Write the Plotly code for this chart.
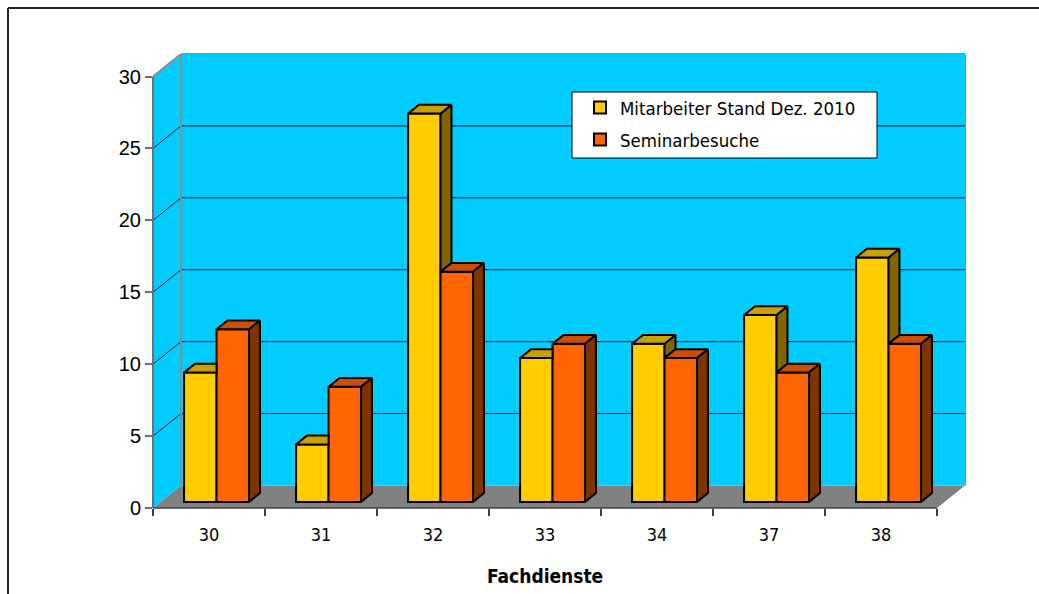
import plotly.graph_objects as go

# Fachdienste: staff count vs. seminar visits
categories = ["30", "31", "32", "33", "34", "37", "38"]
mitarbeiter = [9, 4, 27, 10, 11, 13, 17]
seminarbesuche = [12, 8, 16, 11, 10, 9, 11]
y_tick_values = [0, 5, 10, 15, 20, 25, 30]
series_names = ["Mitarbeiter Stand Dez. 2010", "Seminarbesuche"]
x_title = "Fachdienste"

# pseudo-3D geometry (in axis units)
DX, DY = 0.25, 1.57      # depth offset of the back wall
D0, DD = 0.27, 0.39      # bar depth start / bar depth as fraction of the box depth
W = 0.29                 # bar width (category units)
YMAX = 30

YEL, YEL_TOP, YEL_SIDE = "#FFCC00", "#C8A000", "#806600"
ORA, ORA_TOP, ORA_SIDE = "#FF6600", "#C85000", "#803300"
WALL, FLOOR = "#00CCFF", "#808080"
EDGE = "#8C8C8C"

# page layout in pixels
W_PX, H_PX = 1039, 594
L, R, T, B = 153, 74, 54, 86
PW, PH = W_PX - L - R, H_PX - T - B
n = len(categories)
XR = n + DX
YR = YMAX + DY


def px_x(p):
    return (p - L) / PW


def px_y(p):
    return (H_PX - B - p) / PH


fig = go.Figure()

base = D0 * DY
ddx, ddy = DD * DX, DD * DY
x_yel = [i + 0.5 - W / 2 + D0 * DX for i in range(n)]
x_ora = [i + 0.5 + W / 2 + D0 * DX for i in range(n)]

fig.add_trace(go.Bar(
    x=x_yel, y=mitarbeiter, base=base, width=W, name=series_names[0],
    legendgroup="a",
    marker=dict(color=YEL, line=dict(color="black", width=2)),
    hovertext=categories, hoverinfo="text+y"))
fig.add_trace(go.Bar(
    x=x_ora, y=seminarbesuche, base=base, width=W, name=series_names[1],
    legendgroup="b",
    marker=dict(color=ORA, line=dict(color="black", width=2)),
    hovertext=categories, hoverinfo="text+y"))


def face(xs, ys, color):
    fig.add_trace(go.Scatter(
        x=xs + [xs[0]], y=ys + [ys[0]], mode="lines", fill="toself",
        fillcolor=color, line=dict(color="black", width=2),
        showlegend=False, hoverinfo="skip"))


# top and side faces of each bar pair, hidden parts left out
for i in range(n):
    vy, vo = mitarbeiter[i], seminarbesuche[i]
    xl = i + 0.5 - W + D0 * DX
    xm = xl + W
    xr = xm + W
    hy, ho = vy + base, vo + base
    if vy > vo:
        face([xm, xm + ddx, xm + ddx, xm], [ho, ho + ddy, hy + ddy, hy], YEL_SIDE)
        face([xl, xm, xm + ddx, xl + ddx], [hy, hy, hy + ddy, hy + ddy], YEL_TOP)
    else:
        face([xl, xm, xm, xl + ddx], [hy, hy, hy + ddy, hy + ddy], YEL_TOP)
    face([xm, xr, xr + ddx, xm + ddx], [ho, ho, ho + ddy, ho + ddy], ORA_TOP)
    face([xr, xr + ddx, xr + ddx, xr], [base, base + ddy, ho + ddy, ho], ORA_SIDE)

shapes = []
# floor, side wall and back wall
shapes.append(dict(type="path", xref="x", yref="y", layer="below",
                   path=f"M0,0 L{n},0 L{n + DX},{DY} L{DX},{DY} Z",
                   fillcolor=FLOOR, line=dict(width=0)))
shapes.append(dict(type="path", xref="x", yref="y", layer="below",
                   path=f"M0,0 L{DX},{DY} L{DX},{YMAX + DY} L0,{YMAX} Z",
                   fillcolor=WALL, line=dict(width=0)))
shapes.append(dict(type="rect", xref="x", yref="y", layer="below",
                   x0=DX, x1=n + DX, y0=DY, y1=YMAX + DY,
                   fillcolor=WALL, line=dict(width=0)))
# gridlines on side and back wall
for v in y_tick_values[1:-1]:
    shapes.append(dict(type="line", xref="x", yref="y", layer="below",
                       x0=0, y0=v, x1=DX, y1=v + DY,
                       line=dict(color="#111111", width=1)))
    shapes.append(dict(type="line", xref="x", yref="y", layer="below",
                       x0=DX, y0=v + DY, x1=n + DX, y1=v + DY,
                       line=dict(color="#111111", width=1)))
# wall edges
shapes.append(dict(type="line", xref="x", yref="y", layer="below",
                   x0=DX, y0=DY, x1=DX, y1=YMAX + DY, line=dict(color=EDGE, width=2)))
shapes.append(dict(type="line", xref="x", yref="y", layer="below",
                   x0=0, y0=YMAX, x1=DX, y1=YMAX + DY, line=dict(color=EDGE, width=2)))
shapes.append(dict(type="line", xref="paper", yref="paper", layer="below",
                   x0=DX / XR, y0=1, x1=1, y1=1, line=dict(color=EDGE, width=2)))
shapes.append(dict(type="line", xref="paper", yref="paper", layer="below",
                   x0=1, y0=DY / YR, x1=1, y1=1, line=dict(color=EDGE, width=2)))
# value axis and category axis lines
shapes.append(dict(type="line", xref="paper", yref="paper", layer="above",
                   x0=0, y0=0, x1=0, y1=YMAX / YR, line=dict(color="#707070", width=2)))
shapes.append(dict(type="line", xref="paper", yref="paper", layer="above",
                   x0=0, y0=0, x1=n / XR, y1=0, line=dict(color="#404040", width=1.5)))
# legend box
shapes.append(dict(type="rect", xref="paper", yref="paper", layer="above",
                   x0=px_x(572), x1=px_x(877), y0=px_y(158), y1=px_y(92),
                   fillcolor="white", line=dict(color="black", width=1)))
# chart border (top and left edges are inside the page)
shapes.append(dict(type="line", xref="paper", yref="paper", layer="above",
                   x0=px_x(8), x1=px_x(1100), y0=px_y(8), y1=px_y(8),
                   line=dict(color="#262626", width=2)))
shapes.append(dict(type="line", xref="paper", yref="paper", layer="above",
                   x0=px_x(8), x1=px_x(8), y0=px_y(8), y1=px_y(650),
                   line=dict(color="#262626", width=2)))

NARROW = "DejaVu Sans Condensed, Liberation Sans Narrow, Liberation Sans, sans-serif"
ARIAL = "Liberation Sans, Arial, sans-serif"

fig.add_annotation(text=f"<b>{x_title}</b>", xref="x", yref="paper",
                   x=n / 2, y=px_y(576), xanchor="center", yanchor="middle",
                   showarrow=False, font=dict(family=NARROW, size=19, color="black"))

fig.update_layout(
    width=W_PX, height=H_PX, autosize=False,
    margin=dict(l=L, r=R, t=T, b=B, pad=0),
    paper_bgcolor="white", plot_bgcolor="white",
    barmode="overlay", shapes=shapes,
    showlegend=True,
    legend=dict(x=px_x(580), y=px_y(89), xanchor="left", yanchor="top",
                bgcolor="rgba(0,0,0,0)", borderwidth=0,
                font=dict(family=NARROW, size=18.5, color="black"),
                tracegroupgap=5),
    xaxis=dict(range=[0, XR], showgrid=False, zeroline=False, showline=False,
               tickvals=[i + 0.5 for i in range(n)], ticktext=categories,
               ticks="", ticklabelstandoff=14,
               tickfont=dict(family=NARROW, size=18, color="black"),
               minor=dict(tickvals=list(range(n + 1)), ticks="outside",
                          ticklen=7, tickwidth=1.5, tickcolor="#404040")),
    yaxis=dict(range=[0, YR], showgrid=False, zeroline=False, showline=False,
               tickvals=y_tick_values, ticks="outside", ticklen=7,
               tickwidth=1.5, tickcolor="#707070",
               tickfont=dict(family=ARIAL, size=20, color="black")),
)

fig.write_html("out.html")
